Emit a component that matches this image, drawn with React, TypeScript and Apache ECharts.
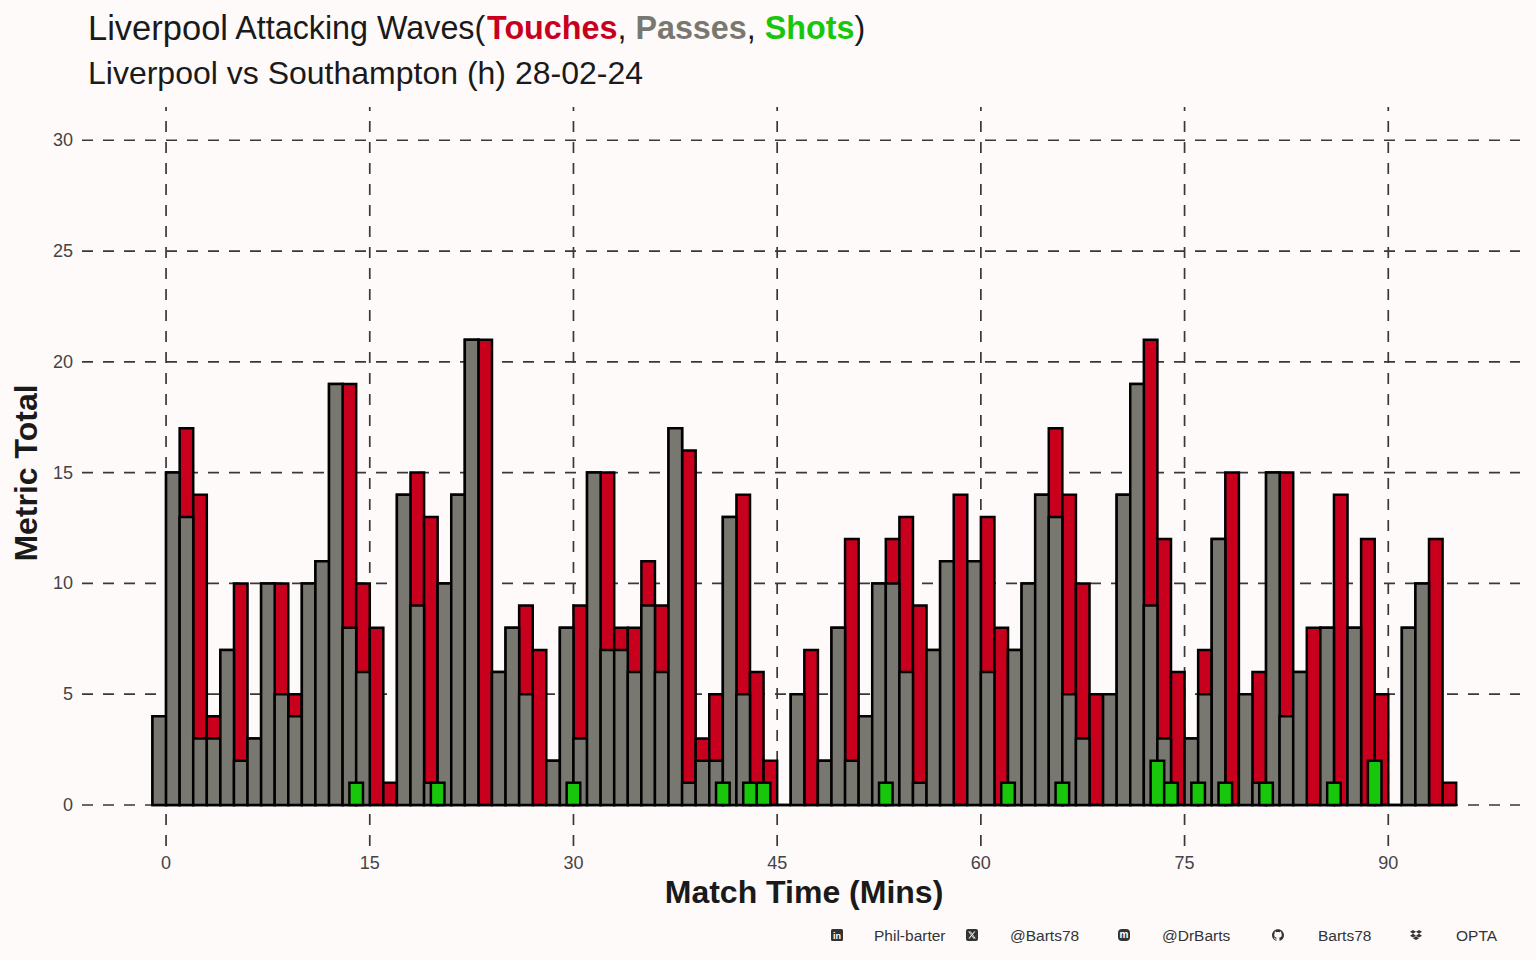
import React, { useEffect, useRef } from "react";
import * as echarts from "echarts";

const FONT = '"Liberation Sans", Arial, Helvetica, sans-serif';

// ---- data (one value per minute bucket; bucket i spans minute i-1 .. i) ----
const passes = [
  4, 15, 13, 3, 3, 7, 2, 3, 10, 5,
  4, 10, 11, 19, 8, 6, 0, 0, 14, 9,
  1, 10, 14, 21, 0, 6, 8, 5, 0, 2,
  8, 3, 15, 7, 7, 6, 9, 6, 17, 1,
  2, 2, 13, 5, 0, 0, 0, 5, 0, 2,
  8, 2, 4, 10, 10, 6, 1, 7, 11, 0,
  11, 6, 0, 7, 10, 14, 13, 5, 3, 0,
  5, 14, 19, 9, 3, 0, 3, 5, 12, 0,
  5, 1, 15, 4, 6, 0, 8, 0, 8, 0,
  0, 0, 8, 10, 0, 0,
];
const touches = [
  4, 15, 17, 14, 4, 7, 10, 3, 10, 10,
  5, 10, 11, 19, 19, 10, 8, 1, 14, 15,
  13, 10, 14, 21, 21, 6, 8, 9, 7, 2,
  8, 9, 15, 15, 8, 8, 11, 9, 17, 16,
  3, 5, 13, 14, 6, 2, 0, 5, 7, 2,
  8, 12, 4, 10, 12, 13, 9, 7, 11, 14,
  11, 13, 8, 7, 10, 14, 17, 14, 10, 5,
  5, 14, 19, 21, 12, 6, 3, 7, 12, 15,
  5, 6, 15, 15, 6, 8, 8, 14, 8, 12,
  5, 0, 8, 10, 12, 1,
];
const shotMinutes = [14, 20, 30, 41, 43, 44, 53, 62, 66, 73, 74, 76, 78, 81, 86, 89];
const shots = [1, 1, 1, 1, 1, 1, 1, 1, 1, 2, 1, 1, 1, 1, 1, 2];

const xTicks = [0, 15, 30, 45, 60, 75, 90];
const yTicks = [0, 5, 10, 15, 20, 25, 30];

const X_MIN = -6.19;
const X_MAX = 99.7;
const Y_MIN = -1.85;
const Y_MAX = 31.5;

const RED = "#c8001e";
const GREY = "#797870";
const GREEN = "#18c70c";
const BG = "#fffafa";
const INK = "#1a1a1a";

const GH_PATH =
  "M12 .297c-6.63 0-12 5.373-12 12 0 5.303 3.438 9.8 8.205 11.385.6.113.82-.258.82-.577 0-.285-.01-1.04-.015-2.04-3.338.724-4.042-1.61-4.042-1.61C4.422 18.07 3.633 17.7 3.633 17.7c-1.087-.744.084-.729.084-.729 1.205.084 1.838 1.236 1.838 1.236 1.07 1.835 2.809 1.305 3.495.998.108-.776.417-1.305.76-1.605-2.665-.3-5.466-1.332-5.466-5.930 0-1.31.465-2.38 1.235-3.22-.135-.303-.54-1.523.105-3.176 0 0 1.005-.322 3.3 1.23.96-.267 1.98-.399 3-.405 1.02.006 2.04.138 3 .405 2.28-1.552 3.285-1.23 3.285-1.23.645 1.653.24 2.873.12 3.176.765.84 1.23 1.91 1.23 3.22 0 4.61-2.805 5.625-5.475 5.92.42.36.81 1.096.81 2.22 0 1.606-.015 2.896-.015 3.286 0 .315.21.69.825.57C20.565 22.092 24 17.592 24 12.297c0-6.627-5.373-12-12-12";
const DB_PATH =
  "M6 1.807L0 5.629l6 3.822 6.001-3.822L6 1.807zM18 1.807l-6 3.822 6 3.822 6-3.822-6-3.822zM0 13.274l6 3.822 6.001-3.822L6 9.452l-6 3.822zM18 9.452l-6 3.822 6 3.822 6-3.822-6-3.822zM6 18.371l6.001 3.822 6-3.822-6-3.822L6 18.371z";
const X_PATH =
  "M18.901 1.153h3.68l-8.04 9.19L24 22.846h-7.406l-5.8-7.584-6.638 7.584H.474l8.6-9.83L0 1.154h7.594l5.243 6.932zM17.61 20.644h2.039L6.486 3.24H4.298z";

let iconsRegistered = false;
function registerIcons() {
  if (iconsRegistered) return;
  iconsRegistered = true;
  echarts.graphic.registerShape("icoGithub", echarts.graphic.extendPath(GH_PATH, {}));
  echarts.graphic.registerShape("icoDropbox", echarts.graphic.extendPath(DB_PATH, {}));
  echarts.graphic.registerShape("icoX", echarts.graphic.extendPath(X_PATH, {}));
}

function barRenderer(color: string) {
  return (params: any, api: any) => {
    const x0 = api.value(0);
    const x1 = api.value(1);
    const v = api.value(2);
    const a = api.coord([x0, v]);
    const b = api.coord([x1, 0]);
    return {
      type: "rect",
      shape: { x: a[0], y: a[1], width: b[0] - a[0], height: b[1] - a[1] },
      style: { fill: color, stroke: "#000", lineWidth: 2.5 },
    };
  };
}

function footer() {
  const ICON = "#333";
  const cy = 935;
  const s = 12;
  const items: any[] = [];
  items.push({
    type: "group",
    x: 831,
    y: cy - 6,
    children: [
      { type: "rect", shape: { x: 0, y: 0, width: s, height: s, r: 1.5 }, style: { fill: ICON } },
      {
        type: "text",
        x: 6,
        y: 6.5,
        style: { text: "in", fill: "#fff", font: "bold 9px " + FONT, align: "center", verticalAlign: "middle" },
      },
    ],
  });
  items.push({
    type: "group",
    x: 966,
    y: cy - 6,
    children: [
      { type: "rect", shape: { x: 0, y: 0, width: s, height: s, r: 2 }, style: { fill: ICON } },
      { type: "icoX", x: 2.2, y: 2.2, scaleX: 7.6 / 24, scaleY: 7.6 / 24, style: { fill: "#fff" } },
    ],
  });
  items.push({
    type: "group",
    x: 1118,
    y: cy - 6,
    children: [
      { type: "rect", shape: { x: 0, y: 0, width: s, height: s, r: 4 }, style: { fill: ICON } },
      {
        type: "text",
        x: 6,
        y: 5.5,
        style: { text: "m", fill: "#fff", font: "bold 10px " + FONT, align: "center", verticalAlign: "middle" },
      },
    ],
  });
  items.push({ type: "icoGithub", x: 1272, y: cy - 6, scaleX: s / 24, scaleY: s / 24, style: { fill: ICON } });
  items.push({ type: "icoDropbox", x: 1410, y: cy - 6, scaleX: s / 24, scaleY: s / 24, style: { fill: ICON } });

  const labels: [string, number][] = [
    ["Phil-barter", 874],
    ["@Barts78", 1010],
    ["@DrBarts", 1162],
    ["Barts78", 1318],
    ["OPTA", 1456],
  ];
  labels.forEach(([t, x]) => {
    items.push({
      type: "text",
      x,
      y: cy,
      style: { text: t, fill: "#333", font: "15.5px " + FONT, align: "left", verticalAlign: "middle" },
    });
  });
  return items;
}

export default function App() {
  const ref = useRef<HTMLDivElement>(null);

  useEffect(() => {
    if (!ref.current) return;
    registerIcons();
    const chart = echarts.init(ref.current, null, { renderer: "svg" });

    const touchData = touches.map((v, i) => [i - 1, i, v]);
    const passData = passes.map((v, i) => [i - 1, i, v]);
    const shotData = shotMinutes.map((m, i) => [m - 0.5, m + 0.5, shots[i]]);
    const gridData = [...yTicks.map((v) => [v, 0]), ...xTicks.map((v) => [v, 1])];

    const option: any = {
      animation: false,
      backgroundColor: BG,
      title: [
        {
          text:
            "{a|Liverpool}{b| Attacking Waves(}{r|Touches}{b|, }{g|Passes}{b|, }{s|Shots}{b|)}",
          left: 88,
          top: 8,
          padding: 0,
          textStyle: {
            fontFamily: FONT,
            fontSize: 32,
            fontWeight: "normal",
            color: INK,
            rich: {
              a: { fontFamily: FONT, fontSize: 34.5, color: INK, lineHeight: 40 },
              b: { fontFamily: FONT, fontSize: 32.3, color: INK, lineHeight: 40 },
              r: { fontFamily: FONT, fontSize: 32.3, fontWeight: "bold", color: RED, lineHeight: 40 },
              g: { fontFamily: FONT, fontSize: 32.3, fontWeight: "bold", color: GREY, lineHeight: 40 },
              s: { fontFamily: FONT, fontSize: 32.3, fontWeight: "bold", color: GREEN, lineHeight: 40 },
            },
          },
        },
        {
          text: "Liverpool vs Southampton (h) 28-02-24",
          left: 88,
          top: 57,
          padding: 0,
          textStyle: { fontFamily: FONT, fontSize: 32, fontWeight: "normal", color: INK },
        },
      ],
      grid: { left: 82, right: 16, top: 107, bottom: 114, containLabel: false },
      xAxis: {
        type: "value",
        min: X_MIN,
        max: X_MAX,
        axisLine: { show: false },
        axisTick: { show: false },
        splitLine: { show: false },
        axisLabel: {
          customValues: xTicks,
          color: "#444",
          fontSize: 18,
          fontFamily: FONT,
          margin: 8,
        },
      },
      yAxis: {
        type: "value",
        min: Y_MIN,
        max: Y_MAX,
        axisLine: { show: false },
        axisTick: { show: false },
        splitLine: { show: false },
        axisLabel: {
          customValues: yTicks,
          color: "#444",
          fontSize: 18,
          fontFamily: FONT,
          margin: 9,
        },
      },
      series: [
        {
          type: "custom",
          name: "grid",
          z: 1,
          silent: true,
          data: gridData,
          renderItem: (params: any, api: any) => {
            const v = api.value(0);
            const d = api.value(1);
            const a = d === 0 ? api.coord([X_MIN, v]) : api.coord([v, Y_MIN]);
            const b = d === 0 ? api.coord([X_MAX, v]) : api.coord([v, Y_MAX]);
            return {
              type: "line",
              shape: { x1: a[0], y1: a[1], x2: b[0], y2: b[1] },
              style: { stroke: "#383838", lineWidth: 1.7, lineDash: [11, 10] },
            };
          },
        },
        {
          type: "custom",
          name: "Touches",
          z: 2,
          data: touchData,
          encode: { x: [0, 1], y: 2 },
          renderItem: barRenderer(RED),
        },
        {
          type: "custom",
          name: "Passes",
          z: 3,
          data: passData,
          encode: { x: [0, 1], y: 2 },
          renderItem: barRenderer(GREY),
        },
        {
          type: "custom",
          name: "Shots",
          z: 4,
          data: shotData,
          encode: { x: [0, 1], y: 2 },
          renderItem: barRenderer(GREEN),
        },
      ],
      graphic: [
        {
          type: "text",
          x: 804,
          y: 892,
          style: {
            text: "Match Time (Mins)",
            font: "bold 32px " + FONT,
            fill: INK,
            align: "center",
            verticalAlign: "middle",
          },
        },
        {
          type: "text",
          x: 26,
          y: 473,
          rotation: Math.PI / 2,
          style: {
            text: "Metric Total",
            font: "bold 32px " + FONT,
            fill: INK,
            align: "center",
            verticalAlign: "middle",
          },
        },
        ...footer(),
      ],
    };

    chart.setOption(option);
    return () => chart.dispose();
  }, []);

  return (
    <div
      ref={ref}
      style={{ position: "fixed", left: 0, top: 0, width: 1536, height: 960, background: BG }}
    />
  );
}
